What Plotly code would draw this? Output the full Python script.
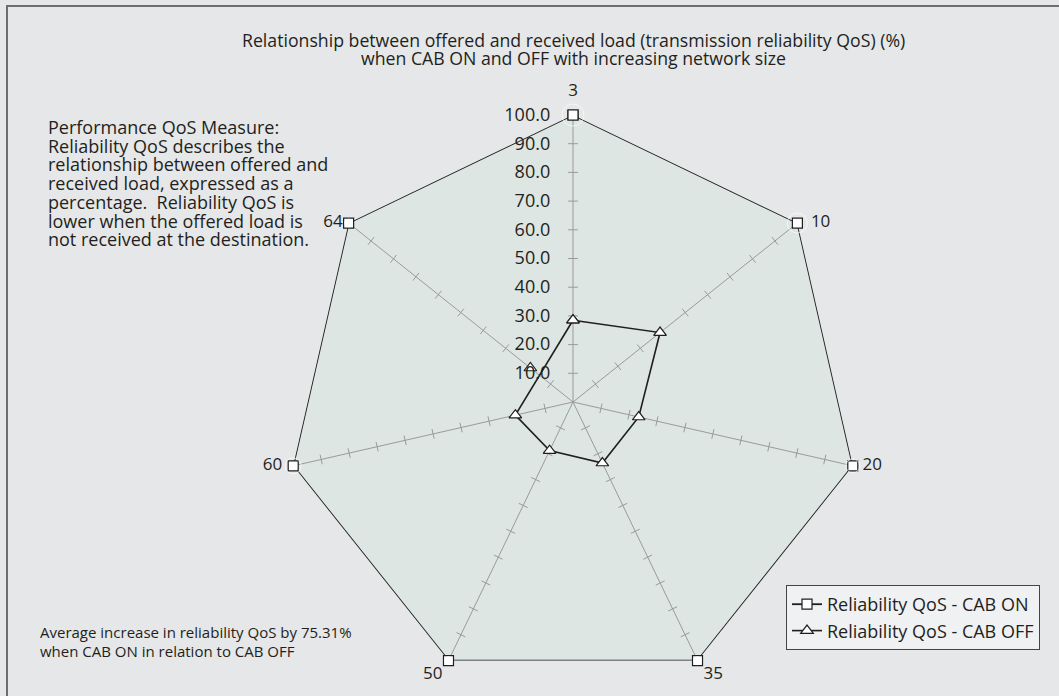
import plotly.graph_objects as go

categories = ["3", "10", "20", "35", "50", "60", "64"]
cab_on = [100.0, 100.0, 100.0, 100.0, 100.0, 100.0, 100.0]
cab_off = [28.5, 38.8, 23.5, 23.6, 18.8, 20.6, 19.0]
radial_ticks = [10, 20, 30, 40, 50, 60, 70, 80, 90, 100]
label_positions = ["top center", "middle right", "middle right", "bottom right",
                   "bottom left", "middle left", "middle left"]
label_pads = [22, 20, 14, 8, 8, 16, 8]

title_lines = [
    "Relationship between offered and received load (transmission reliability QoS) (%)",
    "when CAB ON and OFF with increasing network size",
]
note_lines = [
    "Performance QoS Measure:",
    "Reliability QoS describes the",
    "relationship between offered and",
    "received load, expressed as a",
    "percentage.  Reliability QoS is",
    "lower when the offered load is",
    "not received at the destination.",
]
avg_lines = [
    "Average increase in reliability QoS by 75.31%",
    "when CAB ON in relation to CAB OFF",
]

BG = "#e6e7e8"
FILL = "#dde6e2"
TXT = "#231f20"
GRID = "#9a9a9a"
LINE = "#1f1f1f"
FONT = "Open Sans"

fig = go.Figure()

# small tick marks on every spoke (derived from the radial ticks)
n = len(categories)
tick_theta, tick_r, tick_ang = [], [], []
for i, c in enumerate(categories):
    for t in radial_ticks[:-1]:
        tick_theta.append(c)
        tick_r.append(t)
        tick_ang.append(i * 360.0 / n)
fig.add_trace(go.Scatterpolar(
    theta=tick_theta, r=tick_r, mode="markers", showlegend=False, hoverinfo="skip",
    marker=dict(symbol="line-ew", size=7, angle=tick_ang,
                line=dict(color=GRID, width=1)),
))

# CAB ON closed polygon
fig.add_trace(go.Scatterpolar(
    theta=categories + categories[:1], r=cab_on + cab_on[:1],
    mode="lines+markers", name="Reliability QoS - CAB ON",
    line=dict(color=LINE, width=1.8),
    marker=dict(symbol="square", size=10, color="white",
                line=dict(color=LINE, width=1.2)),
))

# CAB OFF: line joins all points except the last (64), drawn as a lone marker
off_theta = categories[:-1] + categories[:1]
off_r = cab_off[:-1] + cab_off[:1]
fig.add_trace(go.Scatterpolar(
    theta=off_theta, r=off_r,
    mode="lines+markers", name="Reliability QoS - CAB OFF",
    line=dict(color=LINE, width=1.6),
    marker=dict(symbol="triangle-up", size=11, color="white",
                line=dict(color=LINE, width=1.2)),
))
fig.add_trace(go.Scatterpolar(
    theta=categories[-1:], r=cab_off[-1:], mode="markers", showlegend=False,
    marker=dict(symbol="triangle-up", size=11, color="white",
                line=dict(color=LINE, width=1.2)),
))

# category labels next to the outer vertices
fig.add_trace(go.Scatterpolar(
    theta=categories, r=[max(radial_ticks)] * n, mode="markers+text",
    text=categories, textposition=label_positions, showlegend=False, hoverinfo="skip",
    textfont=dict(size=17, color=TXT, family=FONT),
    marker=dict(size=label_pads, color="rgba(0,0,0,0)"),
))

W, H = 1059, 696
cx, cy, R = 573, 402, 287
fig.update_layout(
    width=W, height=H,
    margin=dict(l=0, r=0, t=0, b=0),
    paper_bgcolor=BG,
    font=dict(family=FONT, color=TXT, size=15),
    polar=dict(
        domain=dict(x=[(cx - R) / W, (cx + R) / W], y=[1 - (cy + R) / H, 1 - (cy - R) / H]),
        bgcolor=FILL,
        gridshape="linear",
        radialaxis=dict(range=[0, 100], tickvals=radial_ticks, tickformat=".1f",
                        angle=90, tickangle=90, side="counterclockwise",
                        showgrid=False, showline=False,
                        ticks="outside", ticklen=16, tickcolor="rgba(0,0,0,0)",
                        tickfont=dict(size=18, color=TXT, family=FONT)),
        angularaxis=dict(type="category", categoryarray=categories,
                         direction="clockwise", rotation=90,
                         showgrid=True, gridcolor=GRID, gridwidth=1.3,
                         showline=False, ticks="", showticklabels=False),
    ),
    legend=dict(x=1040 / W, y=1 - 585 / H, xanchor="right", yanchor="top",
                bgcolor="#f0f1f2", bordercolor="#444444", borderwidth=1,
                font=dict(size=18, color=TXT, family=FONT),
                tracegroupgap=0, itemwidth=30),
    showlegend=True,
)

def add_lines(lines, x, y0, dy, size, anchor, align):
    for k, s in enumerate(lines):
        fig.add_annotation(
            x=x / W, y=1 - (y0 + k * dy) / H, xref="paper", yref="paper",
            xanchor=anchor, yanchor="middle", showarrow=False, align=align,
            font=dict(size=size, color=TXT, family=FONT), text=s,
        )

add_lines(title_lines, cx, 40, 18, 17.7, "center", "center")
add_lines(note_lines, 46, 127, 18.7, 18, "left", "left")
add_lines(avg_lines, 38, 632, 18.5, 15, "left", "left")

# frame edges (top and left)
fig.add_shape(type="line", xref="paper", yref="paper", x0=6 / W, x1=1, y0=1 - 6 / H, y1=1 - 6 / H,
              line=dict(color="#6d6e71", width=2))
fig.add_shape(type="line", xref="paper", yref="paper", x0=7 / W, x1=7 / W, y0=0, y1=1 - 6 / H,
              line=dict(color="#6d6e71", width=2))

fig.write_html("out.html", config={"displayModeBar": False},
               post_script="document.body.style.margin='0';document.body.style.overflow='hidden';")
